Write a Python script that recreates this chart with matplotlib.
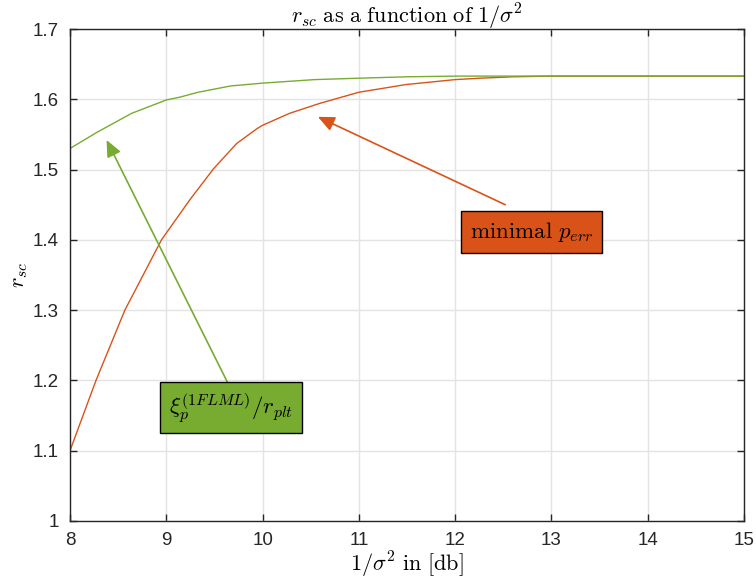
import matplotlib.pyplot as plt

snr_db_green = [8.0, 8.28, 8.64, 9.0, 9.14, 9.33, 9.67, 10.0, 10.54, 11.0, 11.5, 12.0, 13.0, 14.0, 15.0]
r_sc_green = [1.530, 1.553, 1.580, 1.599, 1.603, 1.610, 1.619, 1.623, 1.628, 1.630, 1.632, 1.633, 1.633, 1.633, 1.633]

snr_db_orange = [8.0, 8.27, 8.57, 8.95, 9.25, 9.49, 9.73, 9.94, 10.0, 10.28, 10.59, 11.0, 11.49, 12.0, 12.26, 12.6, 13.0, 14.0, 15.0]
r_sc_orange = [1.10, 1.20, 1.30, 1.40, 1.458, 1.501, 1.537, 1.558, 1.563, 1.580, 1.594, 1.610, 1.621, 1.628, 1.630, 1.632, 1.633, 1.633, 1.633]

x_ticks = [8, 9, 10, 11, 12, 13, 14, 15]
y_ticks = [1.0, 1.1, 1.2, 1.3, 1.4, 1.5, 1.6, 1.7]
y_tick_labels = ["1", "1.1", "1.2", "1.3", "1.4", "1.5", "1.6", "1.7"]

green = "#77AC30"
orange = "#D95319"

plt.rcParams["mathtext.fontset"] = "cm"
plt.rcParams["font.family"] = ["Liberation Sans", "DejaVu Sans"]

fig = plt.figure(figsize=(7.56, 5.86), dpi=100)
ax = fig.add_axes([0.0926, 0.111, 0.8915, 0.8395])

ax.plot(snr_db_orange, r_sc_orange, color=orange, lw=1.0)
ax.plot(snr_db_green, r_sc_green, color=green, lw=1.0)

ax.set_xlim(8, 15)
ax.set_ylim(1.0, 1.7)
ax.set_xticks(x_ticks)
ax.set_yticks(y_ticks)
ax.set_yticklabels(y_tick_labels)
ax.tick_params(direction="in", top=True, right=True, labelsize=13.5, colors="#262626", length=5, width=1.0, pad=8)
ax.grid(True, color="#e3e3e3", lw=1.0)
ax.set_axisbelow(True)
for s in ax.spines.values():
    s.set_color("#262626")
    s.set_linewidth(1.0)

ax.set_title(r"$r_{sc}\ \mathrm{as\ a\ function\ of}\ 1/\sigma^2$", fontsize=16, pad=4)
ax.set_xlabel(r"$1/\sigma^2\ \mathrm{in\ [db]}$", fontsize=16, labelpad=1)
ax.set_ylabel(r"$r_{sc}$", fontsize=16, labelpad=2)

# arrows
ax.annotate("", xy=(8.38, 1.542), xytext=(9.64, 1.196),
            arrowprops=dict(arrowstyle="-|>,head_length=1.0,head_width=0.45", color=green, lw=1.2, shrinkA=0, shrinkB=0))
ax.annotate("", xy=(10.575, 1.575), xytext=(12.52, 1.450),
            arrowprops=dict(arrowstyle="-|>,head_length=1.0,head_width=0.45", color=orange, lw=1.2, shrinkA=0, shrinkB=0))

# text boxes
ax.text(9.67, 1.161, r"$\xi_p^{(1FLML)}/r_{plt}$", fontsize=16.5, ha="center", va="center",
        bbox=dict(boxstyle="square,pad=0.38", fc=green, ec="black", lw=1.0))
ax.text(12.79, 1.411, r"$\mathrm{minimal}\ p_{err}$", fontsize=16.5, ha="center", va="center",
        bbox=dict(boxstyle="square,pad=0.38", fc=orange, ec="black", lw=1.0))

fig.savefig("out.png", dpi=100)
